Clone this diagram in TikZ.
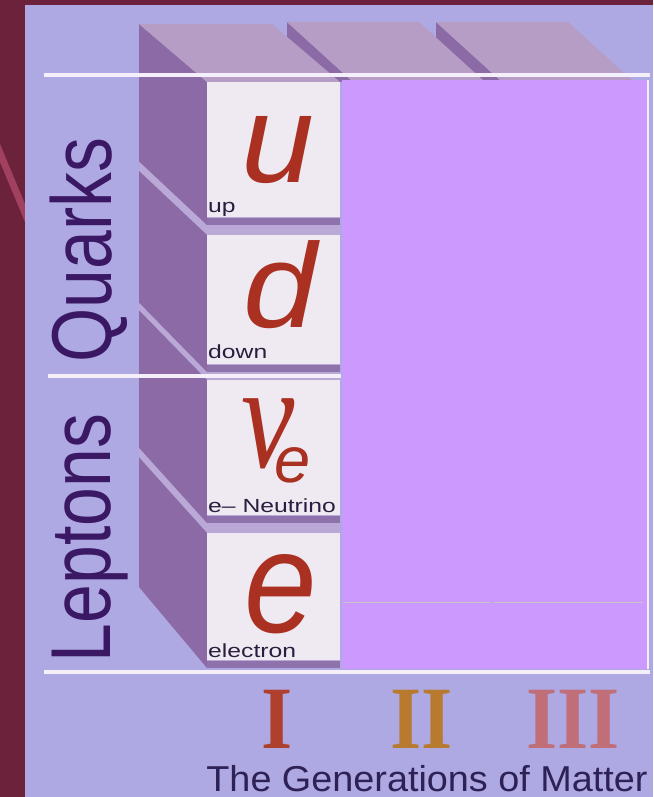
\documentclass[tikz,border=0pt]{standalone}
\usepackage{fontspec}
\usepackage{graphicx}
\setmainfont{Liberation Sans}
\newfontfamily\romanfont{Liberation Serif}
\usetikzlibrary{positioning}

\definecolor{maroon}{RGB}{108,34,58}
\definecolor{stripe}{RGB}{162,64,96}
\definecolor{panel}{RGB}{174,169,226}
\definecolor{topface}{RGB}{181,157,198}
\definecolor{sideface}{RGB}{139,106,165}
\definecolor{gapface}{RGB}{186,168,214}
\definecolor{card}{RGB}{239,234,242}
\definecolor{cardedge}{RGB}{142,114,172}
\definecolor{cover}{RGB}{204,153,255}
\definecolor{rule}{RGB}{244,239,250}
\definecolor{labelink}{RGB}{58,24,100}
\definecolor{smallink}{RGB}{42,30,64}
\definecolor{letter}{RGB}{170,48,34}
\definecolor{genI}{RGB}{176,64,46}
\definecolor{genII}{RGB}{184,122,46}
\definecolor{genIII}{RGB}{192,110,120}
\definecolor{titleink}{RGB}{45,33,85}

\newcommand\fsz[1]{\fontsize{#1}{#1}\selectfont}

\tikzset{
    rulebar/.style={rule, line width=4pt},
    family/.style={inner sep=0pt, anchor=base, rotate=90, text=labelink},
    flavour/.style={inner sep=0pt, anchor=base west, text=smallink},
    particle/.style={inner sep=0pt, anchor=base, text=letter},
    generation/.style={inner sep=0pt, anchor=base, font=\romanfont\bfseries\fsz{89}}
}

\begin{document}
\begin{tikzpicture}[x=1pt, y=-1pt]
    \useasboundingbox (0,0) rectangle (653,797);

    % Backdrop
    \fill[maroon] (0,0) rectangle (653,797);
    \fill[stripe] (0,144) -- (0,162) -- (25,222) -- (25,204) -- cycle;
    \fill[panel] (25,5) rectangle (653,797);

    % Top faces of generations II and III
    \foreach \x in {502, 353} {
        \fill[sideface] (\x-66,22) -- (\x,82) -- (\x-66,82) -- cycle;
        \fill[topface] (\x-66,22) -- (\x+66,22) -- (\x+132,82) -- (\x,82) -- cycle;
    }

    % Generation I column
    \fill[gapface] (139,24) -- (207,82) -- (207,668) -- (139,587) -- cycle;
    \fill[gapface] (207,82) rectangle (340,668);
    \foreach \ft/\fb/\bt/\bb in {82/225/24/161.4, 235/372/171/302.6,
                                 380/523/310.3/447.7, 533/668/457.3/587} {
        \fill[sideface] (139,\bt) -- (207,\ft) -- (207,\fb) -- (139,\bb) -- cycle;
        \fill[card] (207,\ft) rectangle (340,\fb-8);
        \fill[cardedge] (207,\fb-7) rectangle (340,\fb);
    }
    \fill[topface] (139,24) -- (272,24) -- (340,82) -- (207,82) -- cycle;

    % Cover over generations II and III
    \fill[cover] (342,80) rectangle (647,669);
    \draw[rule, line width=1.5pt] (648,80) -- (648,669);
    \draw[gray!45, line width=1pt] (343,602) -- (491,602) (494,602) -- (643,602);

    % Rules
    \draw[rulebar] (44,75) -- (650,75);
    \draw[rulebar] (48,376) -- (341,376);
    \draw[rulebar] (44,672) -- (650,672);

    % Families
    \node[family] (quarks) at (111,250) {\scalebox{0.82}[1]{\fsz{85}Quarks}};
    \node[family] (leptons) at (110,538) {\scalebox{0.82}[1]{\fsz{85}Leptons}};

    % Particles
    \node[particle] (up) at (278,182) {\scalebox{1.05}[1]{\fsz{125}\itshape u}};
    \node[particle] (down) at (280,327) {\scalebox{1.1}[1]{\fsz{120}\itshape d}};
    \node[particle] (nu) at (268,467) {\scalebox{0.8}[1]{\fsz{150}\romanfont\itshape ν}};
    \node[particle] (nusub) at (293,482) {\fsz{65}\itshape e};
    \node[particle] (electron) at (281,632) {\scalebox{0.9}[1]{\fsz{145}\itshape e}};

    \foreach \n/\y/\l in {uplabel/212/up, downlabel/358/down,
                          nulabel/512/e\textendash{} Neutrino, elabel/657/electron} {
        \node[flavour] (\n) at (208,\y) {\scalebox{1.3}[1]{\fsz{19}\l}};
    }

    % Generations
    \node[generation, text=genI] (genone) at (277,748) {\scalebox{0.9}[1]{I}};
    \node[generation, text=genII] (gentwo) at (422,748) {\scalebox{0.9}[1]{II}};
    \node[generation, text=genIII] (genthree) at (573,748) {\scalebox{0.9}[1]{III}};
    \node[inner sep=0pt, anchor=base, text=titleink] (title) at (427,791)
        {\scalebox{1.05}[1]{\fsz{36}The Generations of Matter}};
\end{tikzpicture}
\end{document}
